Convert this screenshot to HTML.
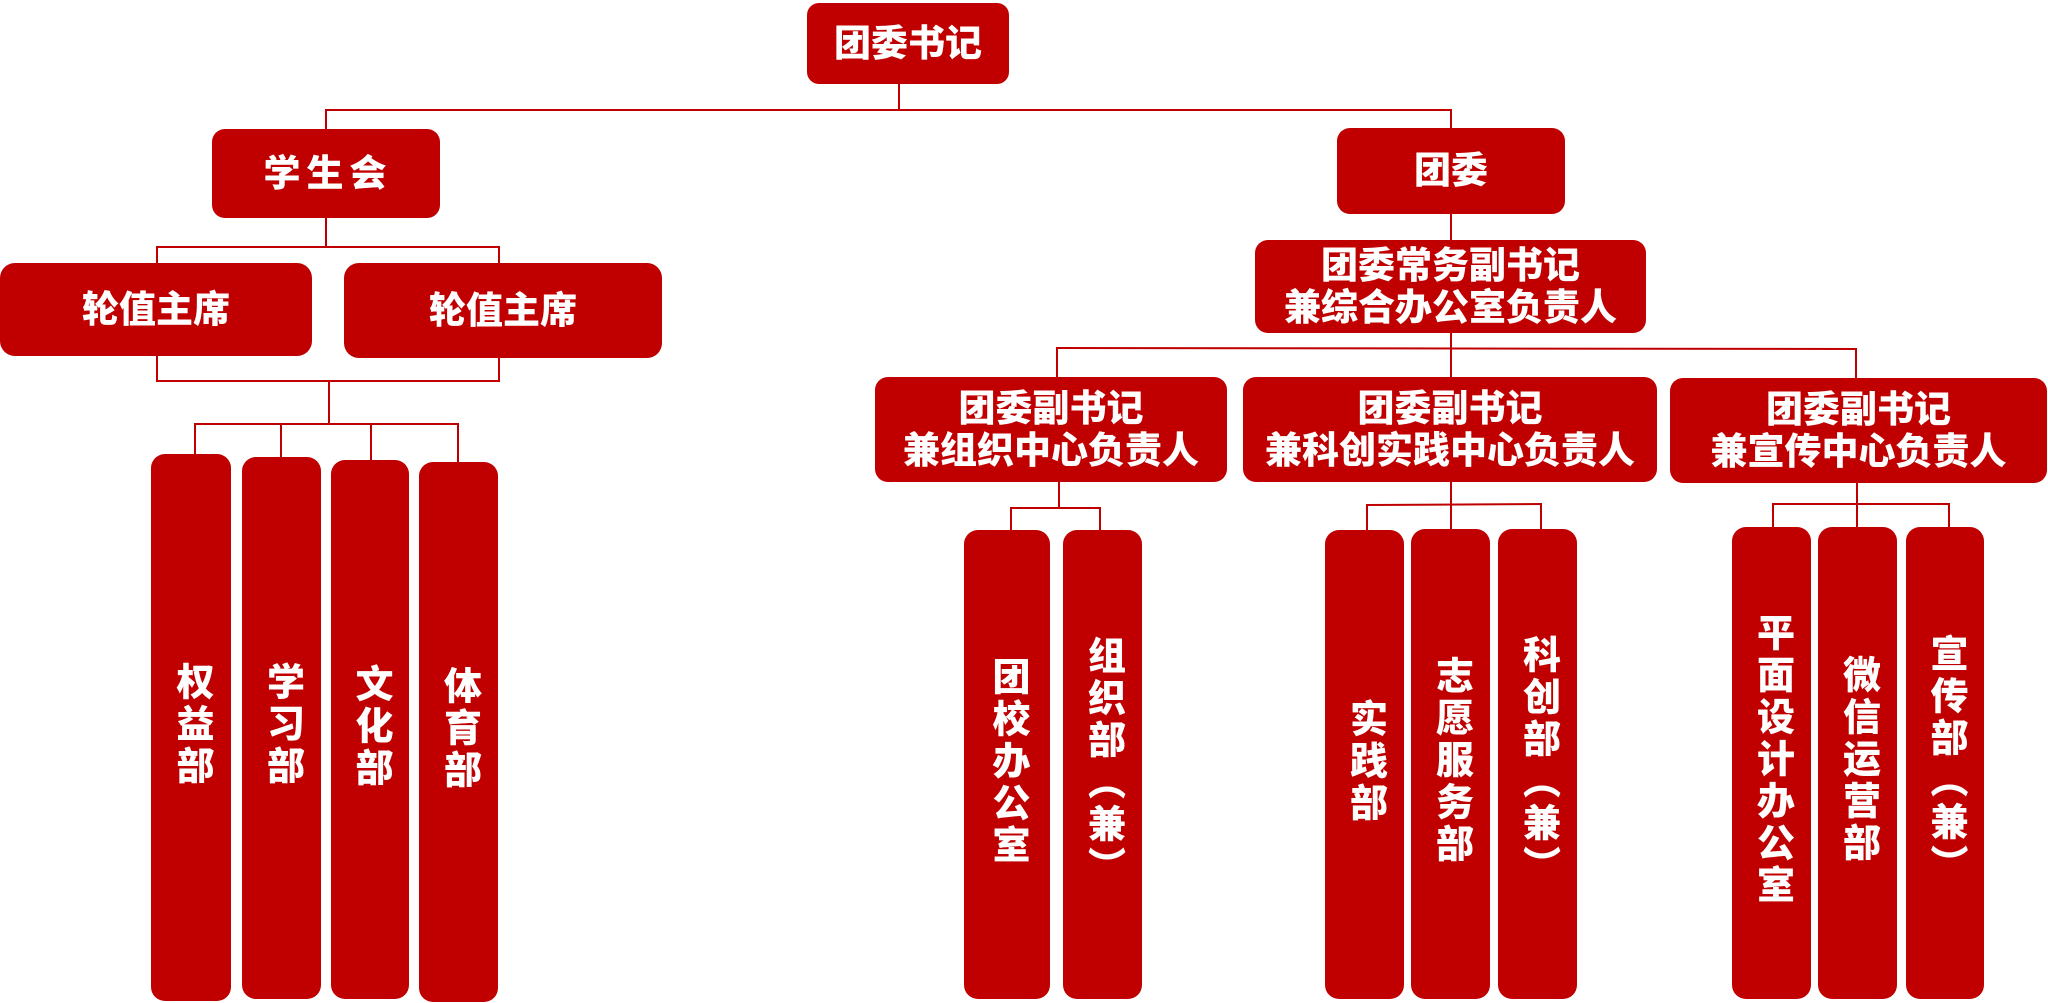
<!DOCTYPE html>
<html>
<head>
<meta charset="utf-8">
<style>
  html, body { margin: 0; padding: 0; background: #ffffff; }
  body { width: 2048px; height: 1003px; position: relative; overflow: hidden;
         font-family: "Liberation Sans", "Noto Sans CJK SC", "WenQuanYi Zen Hei", sans-serif; }
  .b { position: absolute; background: #C00000; color: #fff; border-radius: 13px;
       display: flex; align-items: center; justify-content: center; text-align: center;
       font-weight: 900; font-size: 37px; line-height: 42px; box-sizing: border-box; }
  .v { border-radius: 14px; }
  .v span { writing-mode: vertical-rl; text-orientation: upright; font-size: 38px;
            letter-spacing: 4px; line-height: 38px; display: block; margin-top: -6px; }
  svg { position: absolute; left: 0; top: 0; }
</style>
</head>
<body>
<svg width="2048" height="1003" viewBox="0 0 2048 1003">
  <g stroke="#C00000" stroke-width="2" fill="none" stroke-linecap="square">
    <line x1="899" y1="84" x2="899" y2="110"/>
    <line x1="326" y1="110" x2="1451" y2="110"/>
    <line x1="326" y1="110" x2="326" y2="129"/>
    <line x1="1451" y1="110" x2="1451" y2="128"/>
    <line x1="326" y1="218" x2="326" y2="247"/>
    <line x1="157" y1="247" x2="499" y2="247"/>
    <line x1="157" y1="247" x2="157" y2="263"/>
    <line x1="499" y1="247" x2="499" y2="263"/>
    <line x1="157" y1="356" x2="157" y2="381"/>
    <line x1="499" y1="358" x2="499" y2="381"/>
    <line x1="157" y1="381" x2="499" y2="381"/>
    <line x1="329" y1="381" x2="329" y2="424"/>
    <line x1="195" y1="424" x2="458" y2="424"/>
    <line x1="195" y1="424" x2="195" y2="454"/>
    <line x1="281" y1="424" x2="281" y2="457"/>
    <line x1="371" y1="424" x2="371" y2="460"/>
    <line x1="458" y1="424" x2="458" y2="462"/>
    <line x1="1451" y1="214" x2="1451" y2="240"/>
    <line x1="1451" y1="333" x2="1451" y2="348"/>
    <line x1="1057" y1="348" x2="1856" y2="349"/>
    <line x1="1057" y1="348" x2="1057" y2="377"/>
    <line x1="1451" y1="348" x2="1451" y2="377"/>
    <line x1="1856" y1="349" x2="1856" y2="378"/>
    <line x1="1059" y1="482" x2="1059" y2="508"/>
    <line x1="1011" y1="508" x2="1100" y2="508"/>
    <line x1="1011" y1="508" x2="1011" y2="530"/>
    <line x1="1100" y1="508" x2="1100" y2="530"/>
    <line x1="1451" y1="482" x2="1451" y2="529"/>
    <line x1="1367" y1="505" x2="1541" y2="504"/>
    <line x1="1367" y1="505" x2="1367" y2="530"/>
    <line x1="1541" y1="504" x2="1541" y2="529"/>
    <line x1="1857" y1="483" x2="1857" y2="527"/>
    <line x1="1773" y1="504" x2="1949" y2="504"/>
    <line x1="1773" y1="504" x2="1773" y2="527"/>
    <line x1="1949" y1="504" x2="1949" y2="527"/>
  </g>
</svg>

<div class="b" style="left:807px;top:3px;width:202px;height:81px;border-radius:12px;">团委书记</div>

<div class="b" style="left:212px;top:129px;width:228px;height:89px;letter-spacing:6px;padding-left:4px;">学生会</div>
<div class="b" style="left:0px;top:263px;width:312px;height:93px;border-radius:15px;">轮值主席</div>
<div class="b" style="left:344px;top:263px;width:318px;height:95px;border-radius:15px;">轮值主席</div>

<div class="b v" style="left:151px;top:454px;width:80px;height:547px;"><span>权益部</span></div>
<div class="b v" style="left:242px;top:457px;width:79px;height:542px;"><span>学习部</span></div>
<div class="b v" style="left:331px;top:460px;width:78px;height:539px;"><span>文化部</span></div>
<div class="b v" style="left:419px;top:462px;width:79px;height:540px;"><span>体育部</span></div>

<div class="b" style="left:1337px;top:128px;width:228px;height:86px;">团委</div>
<div class="b" style="left:1255px;top:240px;width:391px;height:93px;">团委常务副书记<br>兼综合办公室负责人</div>

<div class="b" style="left:875px;top:377px;width:352px;height:105px;">团委副书记<br>兼组织中心负责人</div>
<div class="b" style="left:1243px;top:377px;width:414px;height:105px;">团委副书记<br>兼科创实践中心负责人</div>
<div class="b" style="left:1670px;top:378px;width:377px;height:105px;">团委副书记<br>兼宣传中心负责人</div>

<div class="b v" style="left:964px;top:530px;width:86px;height:469px;"><span>团校办公室</span></div>
<div class="b v" style="left:1063px;top:530px;width:79px;height:469px;"><span>组织部︵兼︶</span></div>

<div class="b v" style="left:1325px;top:530px;width:79px;height:469px;"><span>实践部</span></div>
<div class="b v" style="left:1411px;top:529px;width:79px;height:470px;"><span>志愿服务部</span></div>
<div class="b v" style="left:1498px;top:529px;width:79px;height:470px;"><span>科创部︵兼︶</span></div>

<div class="b v" style="left:1732px;top:527px;width:79px;height:472px;"><span>平面设计办公室</span></div>
<div class="b v" style="left:1818px;top:527px;width:79px;height:472px;"><span>微信运营部</span></div>
<div class="b v" style="left:1906px;top:527px;width:78px;height:472px;"><span>宣传部︵兼︶</span></div>
</body>
</html>
